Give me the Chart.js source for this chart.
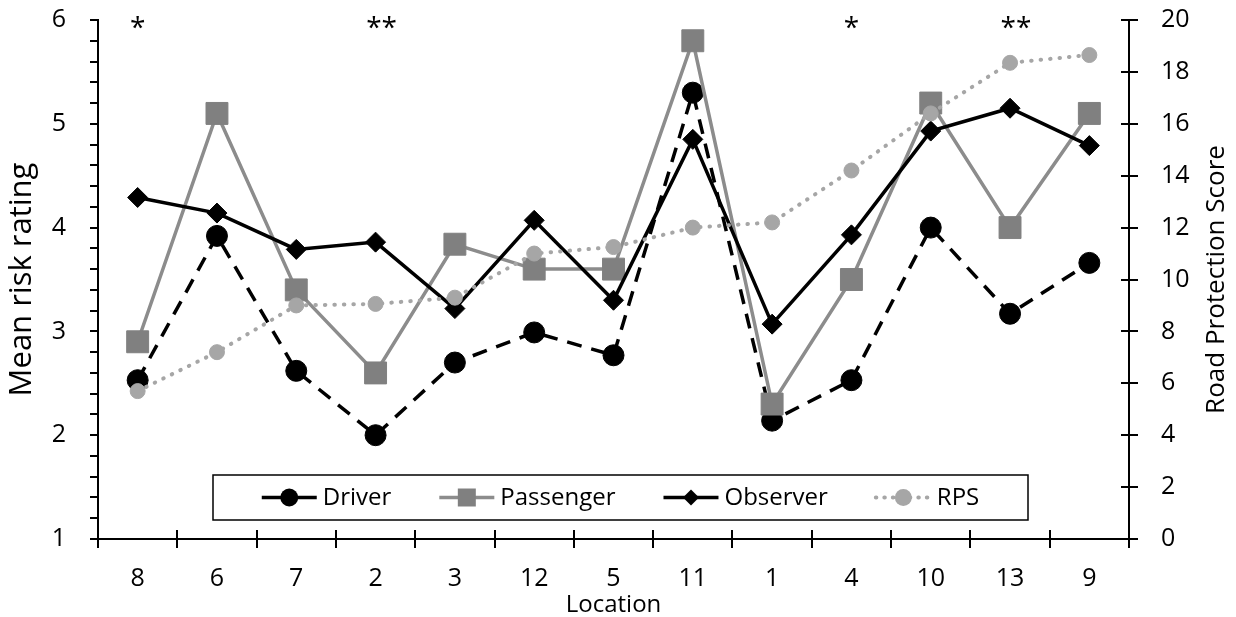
<!DOCTYPE html>
<html>
<head>
<meta charset="utf-8">
<script src="https://cdn.jsdelivr.net/npm/chart.js@4.4.0/dist/chart.umd.min.js"></script>
<style>
  body { margin: 0; background: #fff; }
  #wrap { width: 1236px; height: 617px; position: relative; }
</style>
</head>
<body>
<div id="wrap"><canvas id="myChart"></canvas></div>
<script>
const locations = ['8', '6', '7', '2', '3', '12', '5', '11', '1', '4', '10', '13', '9'];
const significance = ['*', '', '', '**', '', '', '', '', '', '*', '', '**', ''];
const driver = [2.53, 3.92, 2.62, 2.0, 2.70, 2.99, 2.77, 5.30, 2.14, 2.53, 4.0, 3.17, 3.66];
const passenger = [2.9, 5.1, 3.4, 2.6, 3.84, 3.6, 3.6, 5.8, 2.3, 3.5, 5.2, 4.0, 5.1];
const observer = [4.29, 4.14, 3.79, 3.86, 3.22, 4.07, 3.30, 4.85, 3.07, 3.93, 4.93, 5.15, 4.79];
const rps = [5.7, 7.2, 9.0, 9.06, 9.3, 11.0, 11.25, 12.0, 12.2, 14.2, 16.4, 18.35, 18.65];

const FONT = 'Open Sans';

// ticks, stars, legend box, right-hand title
const extras = {
    id: 'extras',
    afterDatasetsDraw(chart) {
        const ctx = chart.ctx;
        const ca = chart.chartArea;
        const x = chart.scales.x, yL = chart.scales.y, yR = chart.scales.y2;
        ctx.save();
        ctx.strokeStyle = '#000';
        ctx.lineWidth = 2;
        ctx.beginPath();
        for (let v = yL.min; v <= yL.max + 1e-9; v += 0.2) {
            const py = Math.round(yL.getPixelForValue(v));
            ctx.moveTo(ca.left - 8, py); ctx.lineTo(ca.left, py);
        }
        for (let v = yR.min; v <= yR.max; v += 2) {
            const py = Math.round(yR.getPixelForValue(v));
            ctx.moveTo(ca.right - 8, py); ctx.lineTo(ca.right + 9, py);
        }
        for (let i = 0; i <= locations.length; i++) {
            const px = Math.round(x.getPixelForValue(i - 0.5));
            ctx.moveTo(px, ca.bottom - 9); ctx.lineTo(px, ca.bottom + 9);
        }
        ctx.stroke();

        // significance stars
        ctx.fillStyle = '#000';
        ctx.font = '28px "' + FONT + '"';
        ctx.textAlign = 'center';
        ctx.textBaseline = 'top';
        significance.forEach((s, i) => {
            if (s) ctx.fillText(s, x.getPixelForValue(i) + (s.length - 1) * 6, ca.top - 5);
        });

        // legend
        const bx = ca.left + 115, by = ca.top + 455, bw = 815, bh = 45;
        ctx.fillStyle = '#fff';
        ctx.fillRect(bx, by, bw, bh);
        ctx.lineWidth = 1.5;
        ctx.strokeStyle = '#000';
        ctx.strokeRect(bx, by, bw, bh);
        ctx.font = '24px "' + FONT + '"';
        ctx.textAlign = 'left';
        ctx.textBaseline = 'middle';
        const items = chart.data.datasets;
        const lineW = 55, gapT = 6, gapI = 48;
        let total = 0;
        items.forEach(d => { total += lineW + gapT + ctx.measureText(d.label).width; });
        total += gapI * (items.length - 1);
        let cx = bx + (bw - total) / 2;
        const cy = by + bh / 2;
        items.forEach(d => {
            ctx.save();
            ctx.strokeStyle = d.borderColor;
            ctx.lineWidth = d.borderWidth;
            ctx.lineCap = d.borderCapStyle || 'butt';
            ctx.setLineDash(d.legendDash || []);
            ctx.beginPath();
            ctx.moveTo(cx, cy); ctx.lineTo(cx + lineW, cy);
            ctx.stroke();
            ctx.setLineDash([]);
            ctx.fillStyle = d.pointBackgroundColor;
            const mx = cx + lineW / 2, r = d.legendRadius;
            ctx.beginPath();
            if (d.pointStyle === 'circle') ctx.arc(mx, cy, r, 0, Math.PI * 2);
            else if (d.pointStyle === 'rect') ctx.rect(mx - r, cy - r, 2 * r, 2 * r);
            else { ctx.moveTo(mx - r, cy); ctx.lineTo(mx, cy - r); ctx.lineTo(mx + r, cy); ctx.lineTo(mx, cy + r); ctx.closePath(); }
            ctx.fill();
            ctx.restore();
            ctx.fillStyle = '#000';
            ctx.fillText(d.label, cx + lineW + gapT, cy + 1);
            cx += lineW + gapT + ctx.measureText(d.label).width + gapI;
        });

        // right title, reads bottom-to-top like the left one
        ctx.save();
        ctx.translate(1217, (ca.top + ca.bottom) / 2);
        ctx.rotate(-Math.PI / 2);
        ctx.font = '26px "' + FONT + '"';
        ctx.textAlign = 'center';
        ctx.textBaseline = 'middle';
        ctx.fillText('Road Protection Score', 0, 0);
        ctx.restore();
        ctx.restore();
    }
};

const fitY = (w) => (s) => { s.width = w; s.paddingTop = 0; s.paddingBottom = 0; };

const ctx = document.getElementById('myChart').getContext('2d');
new Chart(ctx, {
    type: 'line',
    data: {
        labels: locations,
        datasets: [
            {
                label: 'Driver', data: driver, yAxisID: 'y', order: 4,
                borderColor: '#000', backgroundColor: '#000', borderWidth: 3.5,
                borderDash: [15, 10], legendDash: [],
                pointStyle: 'circle', pointRadius: 10.5, pointBorderWidth: 1,
                pointBackgroundColor: '#000', pointBorderColor: '#000', legendRadius: 9
            },
            {
                label: 'Passenger', data: passenger, yAxisID: 'y', order: 3,
                borderColor: '#8c8c8c', backgroundColor: '#808080', borderWidth: 3.5,
                pointStyle: 'rect', pointRadius: 15.5, pointBorderWidth: 1,
                pointBackgroundColor: '#808080', pointBorderColor: '#808080', legendRadius: 9
            },
            {
                label: 'Observer', data: observer, yAxisID: 'y', order: 2,
                borderColor: '#000', backgroundColor: '#000', borderWidth: 3.5,
                pointStyle: 'rectRot', pointRadius: 10, pointBorderWidth: 1,
                pointBackgroundColor: '#000', pointBorderColor: '#000', legendRadius: 8
            },
            {
                label: 'RPS', data: rps, yAxisID: 'y2', order: 1,
                borderColor: '#a6a6a6', backgroundColor: '#a6a6a6', borderWidth: 4,
                borderDash: [0.5, 9], borderCapStyle: 'round', legendDash: [0.5, 8],
                pointStyle: 'circle', pointRadius: 7.5, pointBorderWidth: 1,
                pointBackgroundColor: '#a6a6a6', pointBorderColor: '#a6a6a6', legendRadius: 8.5
            }
        ]
    },
    options: {
        responsive: true,
        maintainAspectRatio: false,
        animation: false,
        layout: { padding: { top: 20, left: 0, right: 0, bottom: 0 } },
        plugins: { legend: { display: false }, tooltip: { enabled: false } },
        elements: { line: { tension: 0 } },
        scales: {
            x: {
                type: 'category', offset: true,
                grid: { display: false },
                border: { display: true, color: '#000', width: 2 },
                ticks: { color: '#000', padding: 17, font: { family: FONT, size: 25 } },
                title: { display: true, text: 'Location', color: '#000', padding: { top: 0, bottom: 0 }, font: { family: FONT, size: 24, lineHeight: 1 } },
                afterFit: s => { s.height = 78; }
            },
            y: {
                position: 'left', min: 1, max: 6,
                grid: { display: false },
                border: { display: true, color: '#000', width: 2 },
                ticks: { stepSize: 1, color: '#000', padding: 24, font: { family: FONT, size: 25 } },
                title: { display: true, text: 'Mean risk rating', color: '#000', padding: { top: 4, bottom: 0 }, font: { family: FONT, size: 31, lineHeight: 1.2 } },
                afterFit: fitY(98)
            },
            y2: {
                position: 'right', min: 0, max: 20,
                grid: { display: false },
                border: { display: true, color: '#000', width: 2 },
                ticks: { stepSize: 2, color: '#000', padding: 24, font: { family: FONT, size: 25 } },
                afterFit: fitY(107)
            }
        }
    },
    plugins: [extras]
});
</script>
</body>
</html>
